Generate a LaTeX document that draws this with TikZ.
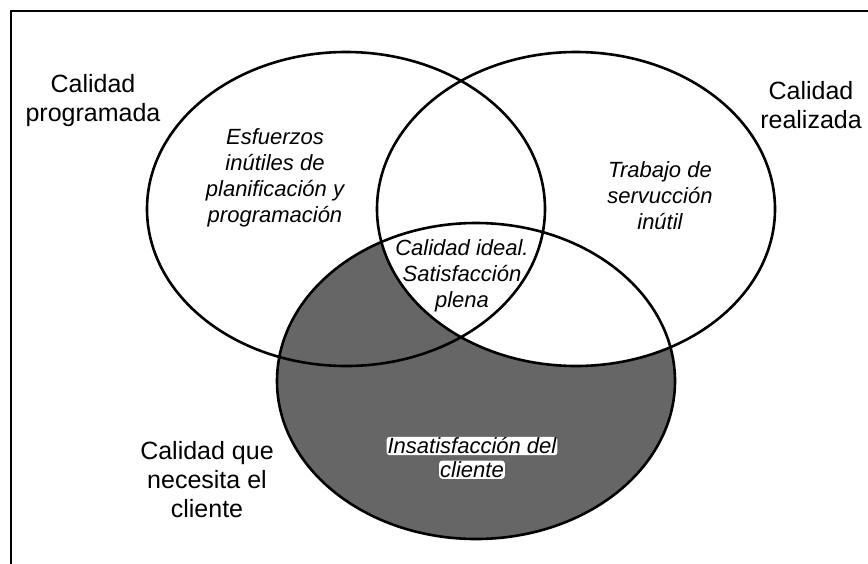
\documentclass[tikz,border=0pt]{standalone}
\usepackage{fontspec}
\setmainfont{Liberation Sans}
\usetikzlibrary{positioning}

\begin{document}
\begin{tikzpicture}[x=1pt,y=-1pt,
    setname/.style={font=\fontsize{25}{29}\selectfont,align=center},
    zone/.style={font=\fontsize{22}{26}\selectfont\itshape,align=center},
    knockout/.style={zone,fill=white,inner sep=1pt,rounded corners=3pt},
    setline/.style={line width=2.6pt}]
    \useasboundingbox (0,0) rectangle (868,563);

    % Frame
    \coordinate (fbl) at (11,600);
    \coordinate (ftl) at (11,11);
    \coordinate (ftr) at (900,11);
    \draw[line width=1.8pt] (fbl) -- (ftl) -- (ftr);

    % Centres of the three sets
    \coordinate (prog) at (346,209);
    \coordinate (real) at (576,209);
    \coordinate (need) at (476,381);

    % Shaded: what the client needs and is not realised
    \begin{scope}
        \clip (need) ellipse (199pt and 158pt);
        \fill[black!60] (need) ellipse (199pt and 158pt);
        \fill[white] (real) ellipse (199pt and 157pt);
    \end{scope}

    % Sets
    \draw[setline] (prog) ellipse (199pt and 157pt);
    \draw[setline] (real) ellipse (199pt and 157pt);
    \draw[setline] (need) ellipse (199pt and 158pt);

    % Set names
    \node[setname] (progname) at (93,101) {Calidad\\programada};
    \node[setname] (realname) at (811,105) {Calidad\\realizada};
    \node[setname] (needname) at (207,480) {Calidad que\\necesita el\\cliente};

    % Zones
    \node[zone] (waste) at (275,178) {Esfuerzos\\inútiles de\\planificación y\\programación};
    \node[zone] (ideal) at (462,276) {Calidad ideal.\\Satisfacción\\plena};
    \node[zone] (useless) at (660,196) {Trabajo de\\servucción\\inútil};
    \node[knockout] (unsat) at (472,446) {Insatisfacción del};
    \node[knockout,below=5pt of unsat] (unsatb) {cliente};
\end{tikzpicture}
\end{document}
